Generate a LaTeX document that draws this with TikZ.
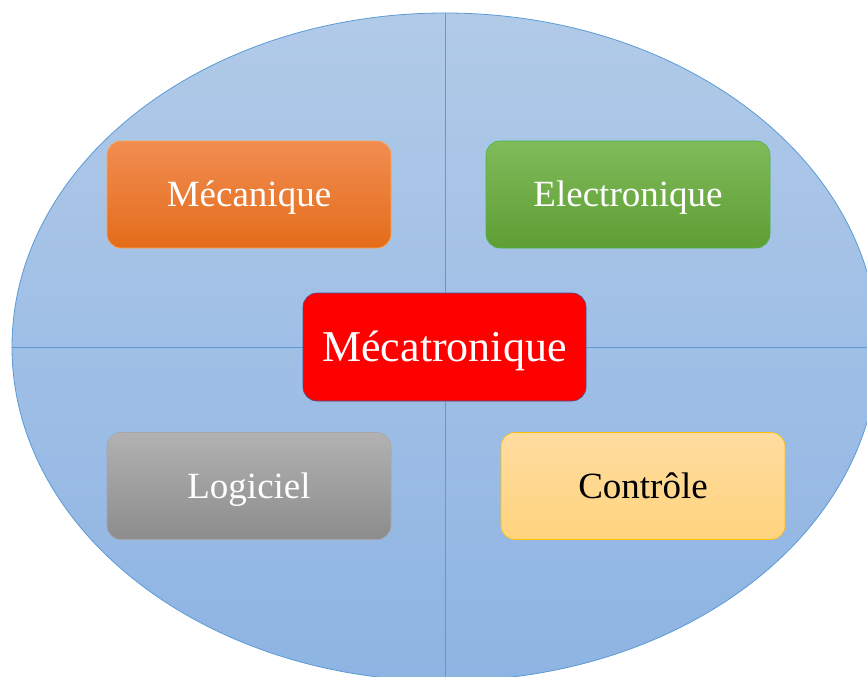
\documentclass[tikz,border=0pt]{standalone}
\usepackage{fontspec}
\setmainfont{Liberation Serif}
\usetikzlibrary{shapes.geometric}
\definecolor{ellTop}{HTML}{B1CAE8}
\definecolor{ellBot}{HTML}{8EB4E3}
\definecolor{ellLine}{HTML}{5B9BD5}
\tikzset{
  box/.style={draw, rounded corners=14pt, minimum width=284pt, minimum height=107pt, inner sep=0pt, font=\fontsize{37}{40}\selectfont, text=white, line width=0.6pt, text height=24.5pt, text depth=0pt},
}
\begin{document}
\begin{tikzpicture}[x=1pt,y=-1pt]
\useasboundingbox (0,0) rectangle (867,677);
\clip (0,0) rectangle (867,677);
\node[ellipse, draw=ellLine, line width=0.8pt, top color=ellTop, bottom color=ellBot, minimum width=866pt, minimum height=668pt, inner sep=0pt] (ell) at (445,347) {};
\draw[ellLine, line width=0.8pt] (ell.north) -- (ell.south);
\draw[ellLine, line width=0.8pt] (ell.west) -- (ell.east);
\node[box, draw=orange!70!white, top color={rgb,255:red,241;green,141;blue,82}, bottom color={rgb,255:red,228;green,108;blue,26}] (meca) at (249,194.5) {Mécanique};
\node[box, draw=green!40!gray, top color={rgb,255:red,128;green,187;blue,90}, bottom color={rgb,255:red,94;green,158;blue,52}] (elec) at (628,194.5) {Electronique};
\node[box, draw={rgb,255:red,68;green,84;blue,150}, fill=red, minimum width=283pt, minimum height=108pt, font=\fontsize{44}{48}\selectfont, text height=29pt] (mecat) at (444.5,347) {Mécatronique};
\node[box, draw=gray!70, top color={rgb,255:red,178;green,178;blue,178}, bottom color={rgb,255:red,140;green,140;blue,140}] (logi) at (249,486) {Logiciel};
\node[box, draw={rgb,255:red,255;green,192;blue,0}, top color={rgb,255:red,255;green,220;blue,160}, bottom color={rgb,255:red,255;green,212;blue,126}, text=black] (ctrl) at (643,486) {Contrôle};
\end{tikzpicture}
\end{document}
